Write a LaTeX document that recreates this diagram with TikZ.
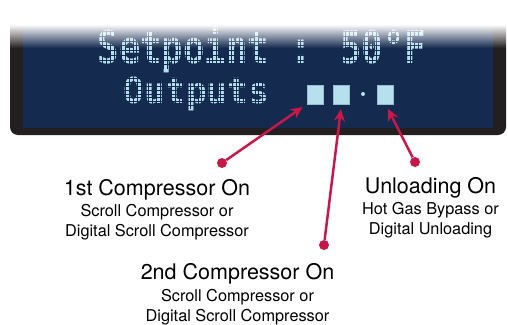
\documentclass[tikz,border=0pt]{standalone}
\usepackage{fontspec}
\setmainfont{TeX Gyre Heros}
\newfontfamily\lcdfont{DejaVu Sans Mono}
\usepackage{xcolor}
\usepackage{tikz}
\usetikzlibrary{arrows.meta,fadings}

\definecolor{framegray}{RGB}{35,31,32}
\definecolor{lcdblue}{RGB}{20,42,78}
\definecolor{lcdtext}{RGB}{182,224,238}
\definecolor{calloutred}{RGB}{200,24,74}

\tikzfading[name=glare, top color=transparent!0, bottom color=transparent!100]

\begin{document}
\begin{tikzpicture}[x=1pt, y=-1pt,
		lcd/.style={text=lcdtext, inner sep=0pt},
		dotgrid/.style={lcdblue, line width=0.7pt},
		segment/.style={fill=lcdtext, draw=lcdtext!80!lcdblue, line width=0.5pt, minimum width=16pt, minimum height=19pt, inner sep=0pt},
		callout/.style={-{Stealth[length=12pt, width=11pt]}, calloutred, line width=2.5pt, shorten >=5pt},
		pindot/.style={circle, fill=calloutred, minimum size=10pt, inner sep=0pt},
		headline/.style={inner sep=0pt, font=\fontsize{21.5}{24}\selectfont},
		subline/.style={inner sep=0pt, align=center, font=\fontsize{16.3}{20.5}\selectfont}]
				\useasboundingbox (0,0) rectangle (508,324);

				\fill[framegray, rounded corners=8pt] (10,8) rectangle (506,135);
				\fill[lcdblue] (23,8) rectangle (493,128);

				\node[lcd, anchor=base west, font=\lcdfont\bfseries\fontsize{35.6}{40}\selectfont] (setpoint) at (97.5,63) {\scalebox{1}[1.27]{Setpoint : 50°F}};
				\node[lcd, anchor=base west, font=\lcdfont\bfseries\fontsize{34.5}{38}\selectfont] (outputs) at (123.5,103) {\scalebox{1}[1.04]{Outputs}};

				\foreach \x in {95,98.8,...,421} \draw[dotgrid] (\x,26) -- (\x,69);
				\foreach \y in {27,31.7,...,69} \draw[dotgrid] (95,\y) -- (421,\y);
				\foreach \x in {122,125.8,...,273} \draw[dotgrid] (\x,74) -- (\x,109);
				\foreach \y in {75,78.8,...,109} \draw[dotgrid] (122,\y) -- (273,\y);

				\node[segment] (out1) at (315,94.5) {};
				\node[segment] (out2) at (341.5,94.5) {};
				\node[circle, fill=lcdtext, minimum size=4pt, inner sep=0pt] (sep) at (363,94) {};
				\node[segment] (out3) at (385.5,94.5) {};

				\fill[white] (8,6) rectangle (508,25);
				\fill[white, path fading=glare] (8,24.5) rectangle (508,48);

				\node[pindot] (dot1) at (222,163) {};
				\node[pindot] (dot2) at (324,245) {};
				\node[pindot] (dot3) at (415,162) {};
				\draw[callout] (dot1) -- (out1.south west);
				\draw[callout] (dot2) -- (out2.south);
				\draw[callout] (dot3) -- (out3.south);

				\node[headline, anchor=base] (first) at (157,195) {1st Compressor On};
				\node[subline, anchor=north] (firstnote) at (157,204) {Scroll Compressor or\\Digital Scroll Compressor};
				\node[headline, anchor=base] (second) at (237.5,279) {2nd Compressor On};
				\node[subline, anchor=north] (secondnote) at (237.5,289) {Scroll Compressor or\\Digital Scroll Compressor};
				\node[headline, anchor=base] (third) at (430.5,193) {Unloading On};
				\node[subline, anchor=north] (thirdnote) at (430.5,202) {Hot Gas Bypass or\\Digital Unloading};
\end{tikzpicture}
\end{document}
